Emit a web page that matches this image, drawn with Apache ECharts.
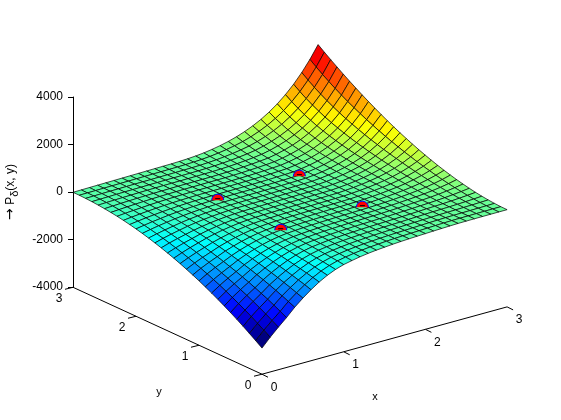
<!DOCTYPE html>
<html>
<head>
<meta charset="utf-8">
<script src="https://cdn.jsdelivr.net/npm/echarts@6/dist/echarts.min.js"></script>
<style>
html, body { margin: 0; padding: 0; background: #fff; }
#main { width: 561px; height: 420px; }
</style>
</head>
<body>
<div id="main"></div>
<script>
var xTicks = [0, 1, 2, 3];
var yTicks = [0, 1, 2, 3];
var zTicks = [-4000, 4000];

// P(x,y), one row per y = 0, 0.1 ... 3, each with x = 0, 0.1 ... 3
var zRows = [
	[-2900,-2540,-2210,-1900,-1560,-1270,-1010,-780,-590,-440,-330,-255,-190,-140,-100,-70,-40,-18,0,16,30,45,58,70,80,84,87,89,91,92,93],
	[-2709,-2365,-2051,-1758,-1438,-1167,-924,-711,-536,-399,-298,-230,-172,-126,-90,-63,-36,-15,1,16,29,44,57,69,78,83,86,89,92,95,97],
	[-2526,-2197,-1898,-1623,-1323,-1069,-844,-647,-487,-360,-268,-207,-154,-114,-81,-57,-32,-14,2,15,28,42,55,67,78,83,89,94,100,106,113],
	[-2349,-2037,-1755,-1493,-1214,-978,-769,-587,-440,-324,-241,-186,-139,-102,-73,-51,-28,-11,3,16,28,42,54,67,79,87,94,102,112,124,137],
	[-2178,-1882,-1616,-1370,-1109,-890,-698,-531,-396,-291,-215,-166,-124,-91,-65,-46,-25,-9,3,16,26,41,54,68,81,91,101,114,130,148,171],
	[-2013,-1735,-1483,-1254,-1011,-809,-631,-479,-355,-260,-191,-148,-110,-81,-58,-41,-22,-8,3,15,26,39,54,69,85,97,111,130,152,179,211],
	[-1856,-1593,-1357,-1144,-919,-732,-569,-429,-317,-231,-169,-131,-97,-72,-51,-36,-19,-6,4,15,25,39,54,71,88,105,125,148,179,216,261],
	[-1705,-1458,-1238,-1039,-831,-660,-511,-384,-282,-205,-149,-115,-86,-63,-45,-32,-16,-5,5,14,24,39,54,74,93,114,139,170,210,258,318],
	[-1560,-1331,-1125,-940,-749,-592,-457,-341,-250,-180,-130,-100,-75,-55,-39,-28,-14,-4,5,14,23,38,56,76,100,125,156,195,245,305,381],
	[-1421,-1207,-1019,-847,-672,-530,-406,-302,-219,-158,-113,-87,-65,-48,-34,-24,-11,-3,6,14,23,39,57,80,107,137,175,222,284,358,452],
	[-1288,-1090,-915,-760,-601,-470,-359,-265,-192,-137,-98,-75,-56,-41,-30,-21,-10,-1,6,14,23,39,60,85,115,151,196,253,327,417,530],
	[-1163,-980,-822,-678,-534,-417,-316,-232,-167,-118,-84,-65,-48,-36,-25,-18,-8,-1,5,13,22,39,62,90,126,166,220,287,374,481,615],
	[-1044,-879,-732,-602,-471,-366,-277,-202,-145,-101,-71,-55,-41,-30,-22,-15,-7,0,6,13,21,40,65,96,136,183,245,324,425,550,706],
	[-931,-780,-648,-530,-413,-320,-240,-175,-124,-86,-60,-46,-35,-25,-18,-13,-5,2,8,15,21,42,69,104,148,203,274,364,481,625,804],
	[-824,-688,-570,-464,-360,-277,-207,-150,-105,-73,-50,-39,-29,-21,-14,-10,-2,3,9,16,22,44,73,112,162,225,305,408,540,704,908],
	[-725,-605,-497,-405,-312,-239,-177,-127,-89,-60,-40,-31,-23,-17,-12,-7,-1,4,10,16,23,47,79,122,178,248,339,456,604,789,1019],
	[-632,-523,-431,-348,-268,-203,-149,-107,-74,-49,-33,-25,-18,-12,-8,-4,0,7,11,18,26,51,87,134,195,274,377,507,672,879,1135],
	[-545,-450,-369,-296,-225,-170,-124,-87,-59,-39,-25,-19,-13,-9,-5,-2,3,9,14,20,30,56,96,147,217,303,417,562,744,974,1257],
	[-464,-381,-312,-248,-189,-141,-102,-71,-47,-31,-19,-13,-9,-6,-2,1,6,11,17,25,35,65,107,164,240,337,462,622,823,1075,1387],
	[-389,-320,-258,-206,-155,-115,-82,-57,-36,-23,-13,-8,-5,-2,0,4,9,16,22,31,41,75,121,185,267,374,511,687,907,1182,1521],
	[-322,-264,-211,-168,-124,-92,-65,-43,-27,-15,-8,-4,-2,1,3,7,13,19,27,38,50,87,139,208,299,415,566,757,996,1295,1662],
	[-261,-212,-169,-133,-99,-72,-49,-32,-19,-10,-3,-1,2,4,7,11,18,25,36,48,62,104,160,236,336,463,626,834,1093,1415,1809],
	[-206,-167,-133,-103,-75,-53,-35,-22,-11,-4,2,4,5,8,11,16,23,33,45,60,78,124,186,270,378,517,694,918,1196,1540,1961],
	[-157,-126,-100,-77,-55,-37,-23,-13,-4,2,6,8,10,12,16,21,30,42,56,76,99,149,220,310,429,580,770,1010,1307,1673,2120],
	[-116,-93,-72,-53,-37,-23,-13,-5,2,7,10,12,14,17,21,28,39,54,72,95,124,181,259,358,487,650,855,1111,1426,1812,2283],
	[-81,-64,-48,-35,-23,-12,-4,3,8,12,15,17,19,22,28,37,50,68,91,120,155,220,306,416,555,731,952,1223,1556,1961,2452],
	[-52,-39,-29,-19,-11,-2,4,10,14,17,20,22,25,30,36,47,63,85,113,149,194,267,362,483,636,825,1060,1347,1698,2120,2628],
	[-29,-20,-13,-5,2,6,11,16,19,23,27,29,32,37,45,58,79,106,142,185,240,324,430,563,728,932,1182,1484,1850,2286,2808],
	[-13,-7,-1,5,9,14,18,22,25,30,33,36,40,46,56,73,97,132,175,230,297,392,510,657,837,1056,1320,1637,2016,2464,2994],
	[-3,1,6,10,15,19,23,29,33,37,41,45,49,57,69,90,119,162,216,283,365,473,606,767,963,1198,1478,1808,2199,2655,3187],
	[0,5,10,15,20,25,30,35,40,45,50,55,60,70,85,110,146,198,263,345,446,569,718,896,1109,1360,1655,1998,2397,2856,3384]
];

// the four marked points
var markerX = [1, 1, 2, 2];
var markerY = [1, 2, 1, 2];
var markerZ = [-60, -15, -35, 50];

var jet = ['#000080', '#0000ff', '#0080ff', '#00ffff', '#80ff80', '#ffff00', '#ff8000', '#ff0000', '#800000'];

var fontName = '"Liberation Sans", Arial, sans-serif';
var floorZ = -7672; // z axis value that lands on the corner x=0, y=0 of the floor

// view of the box, flattened onto the hidden x axis and the z axis
function project(x, y, z) {
	return [189 + 81.7 * x - 63 * y, z - zTicks[0] + floorZ + 945 * x + 1220 * y];
}

// far cells first, so that near cells paint over them
var cells = [];
for (var j = zRows.length - 2; j >= 0; j--) {
	for (var i = zRows[j].length - 2; i >= 0; i--) {
		cells.push([i, j, zRows[j][i]]);
	}
}

var tickData = [];
xTicks.forEach(function(v) { tickData.push([0, v]); });
yTicks.forEach(function(v) { tickData.push([1, v]); });

var markerData = markerX.map(function(x, k) { return [x, markerY[k], markerZ[k]]; });

function renderCell(params, api) {
	var i = api.value(0);
	var j = api.value(1);
	var corners = [[i, j], [i + 1, j], [i + 1, j + 1], [i, j + 1]];
	var points = corners.map(function(c) {
		return api.coord(project(c[0] / 10, c[1] / 10, zRows[c[1]][c[0]]));
	});
	return {
		type: 'polygon',
		shape: { points: points },
		style: { fill: api.visual('color'), stroke: '#000', lineWidth: 0.7 }
	};
}

function renderTick(params, api) {
	var isY = api.value(0) == 1;
	var v = api.value(1);
	var base = isY ? api.coord(project(0, v, zTicks[0])) : api.coord(project(v, 0, zTicks[0]));
	var dx = isY ? -8 : 6;
	var dy = isY ? 2 : 3;
	var lx = isY ? -14 : 12;
	var ly = isY ? 11 : 13;
	return {
		type: 'group',
		children: [{
			type: 'line',
			shape: { x1: base[0], y1: base[1], x2: base[0] + dx, y2: base[1] + dy },
			style: { stroke: '#000', lineWidth: 1 }
		}, {
			type: 'text',
			style: {
				x: base[0] + lx, y: base[1] + ly, text: String(v), fill: '#000',
				font: '12px ' + fontName, textAlign: 'center', textVerticalAlign: 'middle'
			}
		}]
	};
}

function renderMarker(params, api) {
	var c = api.coord(project(api.value(0), api.value(1), api.value(2)));
	return {
		type: 'group',
		children: [{
			type: 'sector',
			shape: { cx: c[0], cy: c[1] + 1, r: 6, r0: 0, startAngle: Math.PI, endAngle: Math.PI * 2 },
			style: { fill: '#ff0000' }
		}, {
			type: 'arc',
			shape: { cx: c[0], cy: c[1] + 1, r: 6, startAngle: Math.PI, endAngle: Math.PI * 2 },
			style: { fill: null, stroke: '#0000ff', lineWidth: 1 }
		}, {
			type: 'line',
			shape: { x1: c[0] - 2.5, y1: c[1] - 0.5, x2: c[0] + 2.5, y2: c[1] - 0.5 },
			style: { stroke: '#000', lineWidth: 1 }
		}]
	};
}

var chart = echarts.init(document.getElementById('main'));
chart.setOption({
	animation: false,
	backgroundColor: '#fff',
	textStyle: { fontFamily: fontName },
	grid: { left: 73, top: 97, bottom: 133, right: 0, outerBoundsMode: 'none' },
	xAxis: { type: 'value', min: 0, max: 488, show: false },
	yAxis: {
		type: 'value',
		min: zTicks[0],
		max: zTicks[1],
		interval: 2000,
		name: '{a|→} P{s|δ}(x, y)',
		nameLocation: 'middle',
		nameRotate: 90,
		nameGap: 53,
		nameTextStyle: {
			color: '#000', fontSize: 12, fontFamily: fontName,
			rich: {
				a: { fontSize: 14, fontFamily: '"DejaVu Sans"', color: '#000' },
				s: { fontSize: 11, padding: [8, 0, 0, 0], fontFamily: fontName, color: '#000' }
			}
		},
		axisLine: { show: true, onZero: false, lineStyle: { color: '#000', width: 1 } },
		axisTick: { show: true, length: 5, lineStyle: { color: '#000' } },
		axisLabel: {
			color: '#000', fontSize: 12, margin: 10, fontFamily: fontName,
			formatter: function(v) { return String(v); }
		},
		splitLine: { show: false }
	},
	visualMap: {
		show: false,
		seriesIndex: 0,
		dimension: 2,
		min: -2900,
		max: 3384,
		inRange: { color: jet }
	},
	series: [{
		type: 'custom',
		name: 'surface',
		renderItem: renderCell,
		data: cells,
		clip: false,
		silent: true
	}, {
		type: 'line',
		name: 'x axis',
		data: xTicks.map(function(v) { return project(v, 0, zTicks[0]); }),
		showSymbol: false,
		clip: false,
		silent: true,
		lineStyle: { color: '#000', width: 1 }
	}, {
		type: 'line',
		name: 'y axis',
		data: yTicks.map(function(v) { return project(0, v, zTicks[0]); }),
		showSymbol: false,
		clip: false,
		silent: true,
		lineStyle: { color: '#000', width: 1 }
	}, {
		type: 'custom',
		name: 'floor ticks',
		renderItem: renderTick,
		data: tickData,
		clip: false,
		silent: true
	}, {
		type: 'custom',
		name: 'points',
		renderItem: renderMarker,
		data: markerData,
		clip: false,
		silent: true
	}],
	graphic: [{
		type: 'text',
		x: 375, y: 397,
		style: { text: 'x', fill: '#000', font: '11px ' + fontName, textAlign: 'center', textVerticalAlign: 'middle' }
	}, {
		type: 'text',
		x: 159, y: 392,
		style: { text: 'y', fill: '#000', font: '11px ' + fontName, textAlign: 'center', textVerticalAlign: 'middle' }
	}]
});
</script>
</body>
</html>
